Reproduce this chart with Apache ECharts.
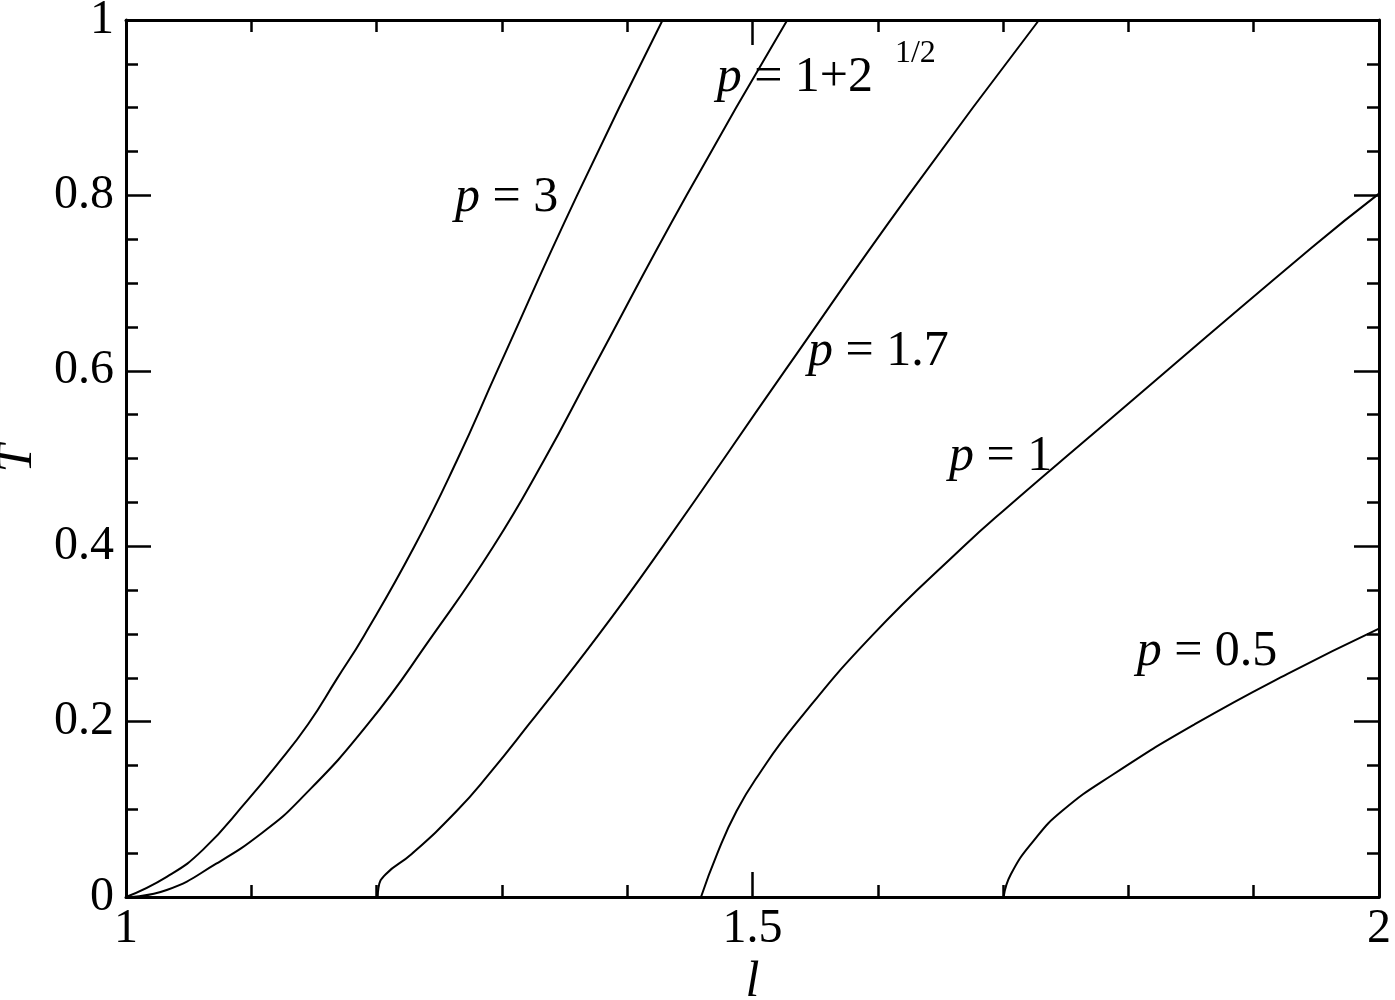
<!DOCTYPE html>
<html>
<head>
<meta charset="utf-8">
<script src="https://cdn.jsdelivr.net/npm/echarts@6/dist/echarts.min.js"></script>
<style>
  html, body { margin: 0; padding: 0; background: #fff; }
  #chart { width: 1395px; height: 1000px; }
</style>
</head>
<body>
<div id="chart"></div>
<script>
// tick labels
var xTickLabels = ['1', '1.5', '2'];
var yTickLabels = ['0', '0.2', '0.4', '0.6', '0.8', '1'];

// curves: l values and matching T values
var p3L = [1, 1.0325, 1.0615, 1.0974, 1.119, 1.1453, 1.1684, 1.190, 1.2299, 1.2642, 1.2966, 1.3600, 1.4283];
var p3T = [0, 0.023, 0.054, 0.111, 0.148, 0.197, 0.249, 0.298, 0.399, 0.498, 0.601, 0.800, 1.0];

var pSqL = [1, 1.0325, 1.072, 1.1085, 1.1389, 1.193, 1.2446, 1.2929, 1.3336, 1.3722, 1.4473, 1.5278];
var pSqT = [0, 0.008, 0.038, 0.073, 0.111, 0.197, 0.298, 0.399, 0.498, 0.601, 0.800, 1.0];

var p17L = [1.2009, 1.2015, 1.2073, 1.228, 1.2639, 1.2897, 1.3216, 1.3767, 1.428, 1.5263, 1.6244, 1.7287];
var p17T = [0, 0.0106, 0.026, 0.049, 0.098, 0.140, 0.197, 0.298, 0.399, 0.601, 0.800, 1.0];

var p1L = [1.4589, 1.4717, 1.4873, 1.5052, 1.5343, 1.5954, 1.668, 1.7039, 1.766, 1.9457, 2.0];
var p1T = [0, 0.049, 0.098, 0.140, 0.197, 0.298, 0.399, 0.445, 0.521, 0.7397, 0.802];

var p05L = [1.7004, 1.7062, 1.7243, 1.747, 1.788, 1.853, 1.927, 2.0];
var p05T = [0, 0.0259, 0.064, 0.098, 0.140, 0.197, 0.2544, 0.306];

var curveNames = ['p = 3', 'p = 1+2^1/2', 'p = 1.7', 'p = 1', 'p = 0.5'];
var curveL = [p3L, pSqL, p17L, p1L, p05L];
var curveT = [p3T, pSqT, p17T, p1T, p05T];

// where the curve labels sit (left edge, vertical middle), in data units
var labelText = ['{i|p} = 3', '{i|p} = 1+2', '{i|p} = 1.7', '{i|p} = 1', '{i|p} = 0.5'];
var labelAt = [[1.2626, 0.797], [1.4714, 0.934], [1.5443, 0.622], [1.6568, 0.502], [1.8066, 0.280]];
var supText = '1/2';
var supAt = [1.6137, 0.962];

var font = 'Liberation Serif';

function pairs(xs, ys) {
  return xs.map(function (x, i) { return [x, ys[i]]; });
}

function tickStyle(split) {
  return { show: true, splitNumber: split, length: 12, lineStyle: { color: '#000', width: 2.5 } };
}

function axis(opts) {
  var base = {
    type: 'value',
    axisLine: { show: true, onZero: false, lineStyle: { color: '#000', width: 3 } },
    axisTick: { show: true, inside: true, length: 25, lineStyle: { color: '#000', width: 2.5 } },
    splitLine: { show: false },
    axisLabel: { show: false }
  };
  return Object.assign(base, opts);
}

var chart = echarts.init(document.getElementById('chart'), null, { renderer: 'canvas' });

chart.setOption({
  backgroundColor: '#fff',
  animation: false,
  grid: { left: 126, right: 16, top: 20, bottom: 103, containLabel: false, outerBoundsMode: 'none' },
  xAxis: [
    axis({
      min: 1, max: 2, interval: 0.5, position: 'bottom',
      minorTick: tickStyle(5),
      axisLabel: {
        show: true, color: '#000', fontFamily: font, fontSize: 48, margin: 8,
        formatter: function (v) { return xTickLabels[Math.round((v - 1) * 2)]; }
      },
      name: 'l', nameLocation: 'middle', nameGap: 60,
      nameTextStyle: { color: '#000', fontFamily: font, fontSize: 50, fontStyle: 'italic' }
    }),
    axis({ min: 1, max: 2, interval: 0.5, position: 'top', minorTick: tickStyle(5) })
  ],
  yAxis: [
    axis({
      min: 0, max: 1, interval: 0.2, position: 'left',
      minorTick: tickStyle(4),
      axisLabel: {
        show: true, color: '#000', fontFamily: font, fontSize: 48, margin: 12,
        formatter: function (v) { return yTickLabels[Math.round(v * 5)]; }
      },
      name: 'T', nameLocation: 'middle', nameGap: 70,
      nameTextStyle: { color: '#000', fontFamily: font, fontSize: 50, fontStyle: 'italic' }
    }),
    axis({ min: 0, max: 1, interval: 0.2, position: 'right', minorTick: tickStyle(4) })
  ],
  series: curveNames.map(function (name, i) {
    return {
      name: name,
      type: 'line',
      data: pairs(curveL[i], curveT[i]),
      showSymbol: false,
      smooth: 0.5,
      lineStyle: { color: '#000', width: 2 },
      silent: true
    };
  })
});

// curve labels placed through the grid's own scale
var graphics = labelText.map(function (t, i) {
  var px = chart.convertToPixel({ gridIndex: 0 }, labelAt[i]);
  return {
    type: 'text',
    x: px[0],
    y: px[1],
    style: {
      text: t,
      fill: '#000',
      fontFamily: font,
      fontSize: 50,
      align: 'left',
      verticalAlign: 'middle',
      rich: { i: { fontStyle: 'italic', fontFamily: font, fontSize: 50 } }
    }
  };
});
var sp = chart.convertToPixel({ gridIndex: 0 }, supAt);
graphics.push({
  type: 'text',
  x: sp[0],
  y: sp[1],
  style: { text: supText, fill: '#000', fontFamily: font, fontSize: 32, align: 'left', verticalAlign: 'middle' }
});
chart.setOption({ graphic: graphics });
</script>
</body>
</html>
